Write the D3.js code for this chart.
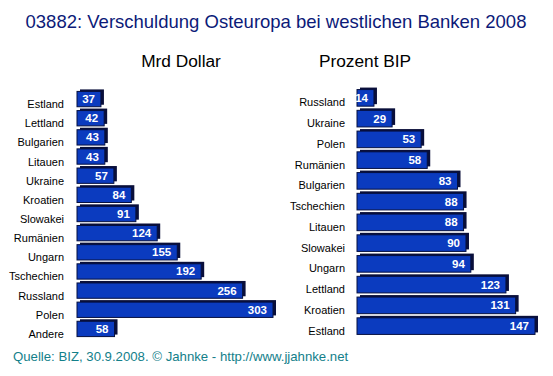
<!DOCTYPE html>
<html>
<head>
<meta charset="utf-8">
<script src="https://cdn.jsdelivr.net/npm/d3@7"></script>
<style>
  body { margin: 0; background: #fff; }
  text { font-family: "Liberation Sans", Arial, sans-serif; }
</style>
</head>
<body>
<script>
const width = 553;
const height = 376;

// Mrd Dollar
const leftCountries = ['Estland', 'Lettland', 'Bulgarien', 'Litauen', 'Ukraine', 'Kroatien', 'Slowakei',
  'Rumänien', 'Ungarn', 'Tschechien', 'Russland', 'Polen', 'Andere'];
const leftValues = [37, 42, 43, 43, 57, 84, 91, 124, 155, 192, 256, 303, 58];

// Prozent BIP
const rightCountries = ['Russland', 'Ukraine', 'Polen', 'Rumänien', 'Bulgarien', 'Tschechien', 'Litauen',
  'Slowakei', 'Ungarn', 'Lettland', 'Kroatien', 'Estland'];
const rightValues = [14, 29, 53, 58, 83, 88, 88, 90, 94, 123, 131, 147];

const svg = d3.select('body')
  .append('svg')
  .attr('width', width)
  .attr('height', height);

svg.append('rect')
  .attr('width', width)
  .attr('height', height)
  .attr('fill', 'white');

svg.append('text')
  .attr('x', 276)
  .attr('y', 28)
  .attr('text-anchor', 'middle')
  .attr('font-size', 18.5)
  .attr('fill', '#0c1a78')
  .text('03882: Verschuldung Osteuropa bei westlichen Banken 2008');

svg.append('text')
  .attr('x', 13)
  .attr('y', 361)
  .attr('font-size', 13.2)
  .attr('fill', '#13808a')
  .text('Quelle: BIZ, 30.9.2008. © Jahnke - http://www.jjahnke.net');

function panel(title, titleX, cats, vals, x0, x1, maxV, y0, y1, labelX, labelDy) {
  const x = d3.scaleLinear().domain([0, maxV]).range([x0, x1]);
  const y = d3.scaleBand().domain(cats).range([y0, y1]).paddingInner(0.2).paddingOuter(0.1);
  const data = cats.map((c, i) => ({ c, v: vals[i] }));

  svg.append('text')
    .attr('x', titleX)
    .attr('y', 67)
    .attr('text-anchor', 'middle')
    .attr('font-size', 17.3)
    .attr('fill', 'black')
    .text(title);

  // shadow (3d side)
  svg.selectAll(null)
    .data(data)
    .enter()
    .append('rect')
    .attr('x', x(0) + 3)
    .attr('y', d => y(d.c) - 2)
    .attr('width', d => x(d.v) - x(0))
    .attr('height', y.bandwidth())
    .attr('fill', '#0a0f3a');

  svg.selectAll(null)
    .data(data)
    .enter()
    .append('rect')
    .attr('x', x(0))
    .attr('y', d => y(d.c))
    .attr('width', d => x(d.v) - x(0))
    .attr('height', y.bandwidth())
    .attr('fill', '#0b3bbf')
    .attr('stroke', '#061040')
    .attr('stroke-width', 1);

  svg.selectAll(null)
    .data(data)
    .enter()
    .append('text')
    .attr('x', d => x(d.v) - 6)
    .attr('y', d => y(d.c) + y.bandwidth() / 2 + 4)
    .attr('text-anchor', 'end')
    .attr('font-size', 11.5)
    .attr('font-weight', 'bold')
    .attr('fill', 'white')
    .text(d => d.v);

  svg.selectAll(null)
    .data(data)
    .enter()
    .append('text')
    .attr('x', labelX)
    .attr('y', d => y(d.c) + y.bandwidth() / 2 + labelDy)
    .attr('text-anchor', 'end')
    .attr('font-size', 11)
    .attr('fill', 'black')
    .text(d => d.c);
}

panel('Mrd Dollar', 181, leftCountries, leftValues, 77, 273, 303, 89.5, 338.5, 64, 9);
panel('Prozent BIP', 365, rightCountries, rightValues, 357, 535, 147, 87.5, 336.5, 345, 8.5);
</script>
</body>
</html>
